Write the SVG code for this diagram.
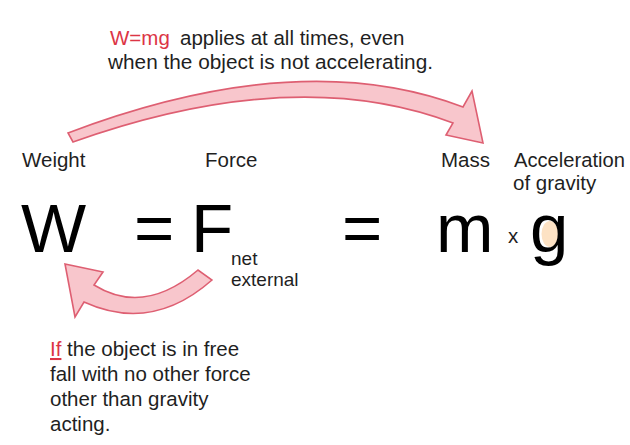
<svg xmlns="http://www.w3.org/2000/svg" width="630" height="445" viewBox="0 0 630 445">
<style>
  .t { font-family: "Liberation Sans", Arial, sans-serif; fill: #1f1f1f; font-size: 20.5px; }
  .s { font-family: "Liberation Sans", Arial, sans-serif; fill: #1f1f1f; font-size: 19px; }
  .red { fill: #dc3545; }
  .eq { font-family: "Liberation Sans", Arial, sans-serif; fill: #000; font-size: 69px; }
  .band { fill: #f8c6cc; stroke: #de5f72; stroke-width: 1.6; stroke-linejoin: miter; }
</style>
<rect width="630" height="445" fill="#ffffff"/>

<g id="note-top">
  <text class="t" x="110" y="45"><tspan class="red">W=mg</tspan><tspan x="180">applies at all times, even</tspan></text>
  <text class="t" x="108" y="69" textLength="325" lengthAdjust="spacingAndGlyphs">when the object is not accelerating.</text>
</g>

<g id="connectors">
  <path id="arrow-top" class="band" d="M68,133 Q300,45 463,107 L472,91 L483,143 L446,135 L453,123 Q295,63 73,142 Z"/>
  <path id="arrow-bottom" class="band" d="M198,270 Q144,316 94,285 L103,272 L65,264 L75,317 L84,302 Q152,333 212,280 Z"/>
</g>

<g id="label-weight"><text class="t" x="22" y="167">Weight</text></g>
<g id="label-force"><text class="t" x="205" y="167">Force</text></g>
<g id="label-mass"><text class="t" x="441" y="167">Mass</text></g>
<g id="label-accel">
  <text class="t" x="514" y="167" textLength="111" lengthAdjust="spacingAndGlyphs">Acceleration</text>
  <text class="t" x="513" y="190">of gravity</text>
</g>

<g id="term-W"><text class="eq" x="21" y="252">W</text></g>
<g id="eq-1"><text class="eq" x="134" y="252">=</text></g>
<g id="term-F">
  <text class="eq" x="191" y="252">F</text>
  <text class="s" x="231" y="265">net</text>
  <text class="s" x="231" y="286">external</text>
</g>
<g id="eq-2"><text class="eq" x="342" y="252">=</text></g>
<g id="term-m"><text class="eq" x="436" y="252">m</text></g>
<g id="times"><text class="t" x="508" y="243" font-size="19">x</text></g>
<g id="term-g">
  <ellipse cx="550" cy="234" rx="8.5" ry="13" fill="#fde2c4"/>
  <text class="eq" x="530" y="252">g</text>
</g>

<g id="note-bottom">
  <text class="t" x="50" y="356"><tspan class="red" text-decoration="underline">If</tspan> the object is in free</text>
  <text class="t" x="50" y="381">fall with no other force</text>
  <text class="t" x="50" y="406">other than gravity</text>
  <text class="t" x="50" y="431">acting.</text>
</g>
</svg>
